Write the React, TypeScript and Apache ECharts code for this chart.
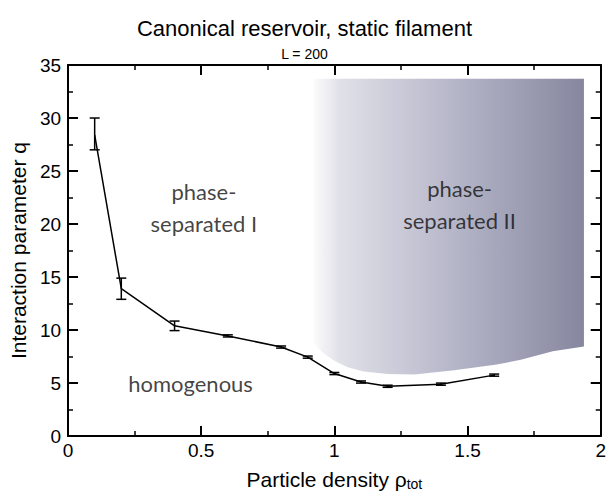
import React, { useEffect, useRef } from "react";
import * as echarts from "echarts";

// ---- data ----
const densities = [0.1, 0.2, 0.4, 0.6, 0.8, 0.9, 1.0, 1.1, 1.2, 1.4, 1.6];
const qValues = [28.4, 13.9, 10.4, 9.45, 8.4, 7.45, 5.9, 5.1, 4.7, 4.9, 5.75];
const qLow = [27.0, 12.9, 9.95, 9.35, 8.3, 7.35, 5.8, 5.0, 4.6, 4.8, 5.65];
const qHigh = [30.0, 14.9, 10.85, 9.55, 8.5, 7.55, 6.0, 5.2, 4.8, 5.0, 5.85];

// boundary of the "phase-separated II" region
const regionX = [0.92, 1.937, 1.937, 1.82, 1.7, 1.61, 1.45, 1.3, 1.2, 1.11, 1.05, 1.0, 0.96, 0.935, 0.92];
const regionY = [33.7, 33.7, 8.45, 8.0, 7.2, 6.75, 6.2, 5.8, 5.85, 6.1, 6.5, 7.1, 7.8, 8.4, 8.9];

const labelX = [0.51, 1.47, 0.46];
const labelY = [21.6, 21.8, 5.0];
const labelText = ["phase-\nseparated I", "phase-\nseparated II", "homogenous"];

const xTicks = { min: 0, max: 2, interval: 0.5 };
const yTicks = { min: 0, max: 35, interval: 5 };

const titleText = "Canonical reservoir, static filament";
const subtitleText = "L = 200";
const xName = "Particle density ";
const yName = "Interaction parameter q";

const FONT = "'Liberation Sans', Arial, Helvetica, sans-serif";
const LFONT = "Lato, 'Open Sans', sans-serif";

export default function App() {
  const ref = useRef<HTMLDivElement>(null);
  useEffect(() => {
    if (!ref.current) return;
    const chart = echarts.init(ref.current, undefined, { renderer: "svg" });
    const axisLine = { show: true, onZero: false, lineStyle: { color: "#000", width: 2 } };
    const tick = { show: true, inside: true, length: 10, lineStyle: { color: "#000", width: 2 } };
    const minor = { show: true, splitNumber: 2, length: 5, lineStyle: { color: "#000", width: 1.5 } };
    const gradient = {
      type: "linear",
      x: 0,
      y: 0,
      x2: 1,
      y2: 0,
      colorStops: [
        { offset: 0, color: "#fcfcfd" },
        { offset: 0.1, color: "#e0e0e8" },
        { offset: 0.5, color: "#b8b8cb" },
        { offset: 1, color: "#86869f" },
      ],
    };
    chart.setOption({
      animation: false,
      backgroundColor: "#fff",
      title: {
        text: titleText,
        subtext: subtitleText,
        left: "center",
        top: 12,
        itemGap: 8,
        textStyle: { fontFamily: FONT, fontSize: 22, fontWeight: "normal", color: "#000" },
        subtextStyle: { fontFamily: FONT, fontSize: 14, color: "#000" },
      },
      grid: { left: 67, right: 3, top: 65, bottom: 54 },
      xAxis: [
        {
          type: "value",
          ...xTicks,
          position: "bottom",
          name: "{a|" + xName + "ρ}{s|tot}",
          nameLocation: "middle",
          nameGap: 26,
          nameTextStyle: {
            fontFamily: FONT,
            color: "#000",
            rich: {
              a: { fontFamily: FONT, fontSize: 21, color: "#000", lineHeight: 24 },
              s: { fontFamily: FONT, fontSize: 14, color: "#000", lineHeight: 24, verticalAlign: "bottom", padding: [12, 0, 0, 0] },
            },
          },
          axisLine,
          axisTick: tick,
          minorTick: minor,
          splitLine: { show: false },
          axisLabel: { fontFamily: FONT, fontSize: 19, color: "#000", margin: 5 },
        },
        {
          type: "value",
          ...xTicks,
          position: "top",
          axisLine,
          axisTick: tick,
          minorTick: minor,
          splitLine: { show: false },
          axisLabel: { show: false },
        },
      ],
      yAxis: [
        {
          type: "value",
          ...yTicks,
          position: "left",
          name: yName,
          nameLocation: "middle",
          nameGap: 36,
          nameTextStyle: { fontFamily: FONT, fontSize: 21, color: "#000" },
          axisLine,
          axisTick: tick,
          minorTick: minor,
          splitLine: { show: false },
          axisLabel: { fontFamily: FONT, fontSize: 19, color: "#000", margin: 7 },
        },
        {
          type: "value",
          ...yTicks,
          position: "right",
          axisLine,
          axisTick: tick,
          minorTick: minor,
          splitLine: { show: false },
          axisLabel: { show: false },
        },
      ],
      series: [
        {
          type: "custom",
          z: 1,
          silent: true,
          data: [[regionX[0], regionY[0]]],
          renderItem: (params: any, api: any) => {
            const pts = regionX.map((x, i) => api.coord([x, regionY[i]]));
            return { type: "polygon", shape: { points: pts }, style: { fill: gradient } };
          },
        },
        {
          type: "line",
          z: 3,
          data: densities.map((x, i) => [x, qValues[i]]),
          showSymbol: false,
          symbol: "none",
          lineStyle: { color: "#000", width: 1.5 },
        },
        {
          type: "custom",
          z: 4,
          data: densities.map((x, i) => [x, qLow[i], qHigh[i]]),
          encode: { x: 0, y: [1, 2] },
          renderItem: (params: any, api: any) => {
            const x = api.value(0);
            const lo = api.coord([x, api.value(1)]);
            const hi = api.coord([x, api.value(2)]);
            const w = 5;
            const st = { stroke: "#000", lineWidth: 1.5 };
            return {
              type: "group",
              children: [
                { type: "line", shape: { x1: lo[0], y1: lo[1], x2: hi[0], y2: hi[1] }, style: st },
                { type: "line", shape: { x1: lo[0] - w, y1: lo[1], x2: lo[0] + w, y2: lo[1] }, style: st },
                { type: "line", shape: { x1: hi[0] - w, y1: hi[1], x2: hi[0] + w, y2: hi[1] }, style: st },
              ],
            };
          },
        },
        {
          type: "scatter",
          z: 5,
          silent: true,
          symbolSize: 0,
          data: labelX.map((x, i) => [x, labelY[i]]),
          label: {
            show: true,
            position: "inside",
            formatter: (p: any) => labelText[p.dataIndex],
            fontFamily: LFONT,
            fontSize: 22,
            lineHeight: 32,
            color: "#111",
            align: "center",
          },
        },
      ],
    });
    return () => chart.dispose();
  }, []);
  return <div ref={ref} style={{ position: "fixed", left: 0, top: 0, width: 609, height: 496 }} />;
}
